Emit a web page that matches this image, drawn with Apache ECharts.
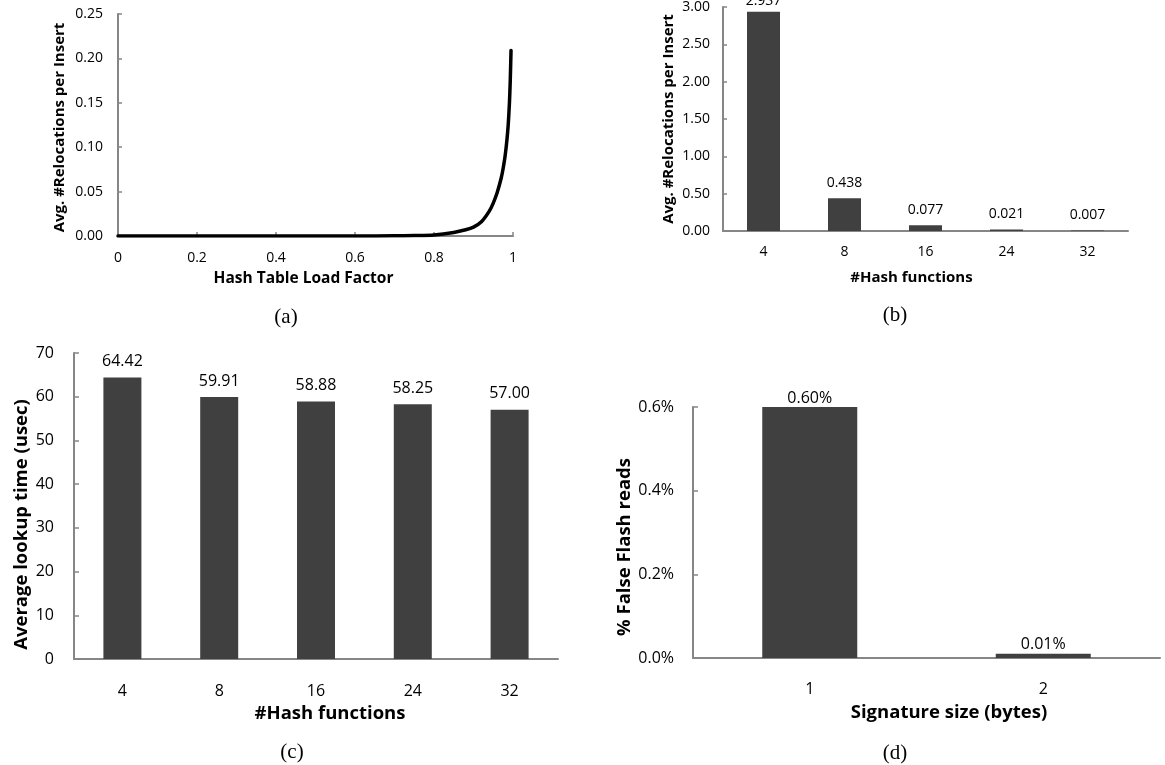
<!DOCTYPE html>
<html>
<head>
<meta charset="utf-8">
<script src="https://cdn.jsdelivr.net/npm/echarts@6/dist/echarts.min.js"></script>
<style>
  html, body { margin: 0; padding: 0; background: #fff; }
  #main { width: 1165px; height: 765px; }
</style>
</head>
<body>
<div id="main"></div>
<script>
// (a) relocations vs load factor
var loadFactor = [0, 0.1, 0.2, 0.3, 0.4, 0.5, 0.6, 0.7, 0.75, 0.8, 0.85, 0.88, 0.9, 0.92, 0.94, 0.95, 0.96, 0.97, 0.975, 0.98, 0.985, 0.988, 0.991, 0.993, 0.995];
var avgRelocations = [0, 0, 0, 0, 0, 0, 0.0001, 0.0002, 0.0005, 0.0012, 0.004, 0.007, 0.010, 0.016, 0.028, 0.037, 0.049, 0.065, 0.076, 0.090, 0.110, 0.126, 0.150, 0.174, 0.209];

// (b) relocations vs #hash functions
var hashFuncs = ['4', '8', '16', '24', '32'];
var relocPerInsert = [2.937, 0.438, 0.077, 0.021, 0.007];

// (c) lookup time vs #hash functions
var lookupTime = [64.42, 59.91, 58.88, 58.25, 57.00];

// (d) false flash reads (%) vs signature size
var sigSize = ['1', '2'];
var falseReads = [0.60, 0.01];

var FONT = 'Open Sans';
var AXIS = '#868686';
var BAR = '#404040';

function axisLineStyle() {
    return { show: true, lineStyle: { color: AXIS, width: 2 } };
}
function inTick(len) {
    return { show: true, inside: true, length: len, lineStyle: { color: AXIS, width: 1.5 } };
}
function titleStyle(size, padding) {
    return { fontSize: size, fontWeight: 'bold', color: '#000', fontFamily: FONT, padding: padding || 0 };
}

var chart = echarts.init(document.getElementById('main'));

var option = {
    backgroundColor: '#fff',
    animation: false,
    textStyle: { fontFamily: FONT, color: '#000' },
    grid: [
        { left: 118, top: 14, width: 395, height: 222 },
        { left: 723, top: 5, width: 405, height: 226 },
        { left: 74, top: 353, width: 484, height: 306 },
        { left: 693, top: 407, width: 467, height: 251 }
    ],
    xAxis: [{
        gridIndex: 0,
        type: 'value',
        min: 0, max: 1, interval: 0.2,
        axisLine: axisLineStyle(),
        axisTick: inTick(4),
        splitLine: { show: false },
        axisLabel: { fontSize: 14, margin: 15, color: '#000', fontFamily: FONT },
        name: 'Hash Table Load Factor',
        nameLocation: 'middle', nameGap: 35,
        nameTextStyle: titleStyle(15.5, [0, 24, 0, 0])
    }, {
        gridIndex: 1,
        type: 'category',
        data: hashFuncs,
        axisLine: axisLineStyle(),
        axisTick: { show: false },
        axisLabel: { fontSize: 14, margin: 14, color: '#000', fontFamily: FONT },
        name: '#Hash functions',
        nameLocation: 'middle', nameGap: 39,
        nameTextStyle: titleStyle(15, [0, 28, 0, 0])
    }, {
        gridIndex: 2,
        type: 'category',
        data: hashFuncs,
        axisLine: axisLineStyle(),
        axisTick: { show: false },
        axisLabel: { fontSize: 16, margin: 24, color: '#000', fontFamily: FONT },
        name: '#Hash functions',
        nameLocation: 'middle', nameGap: 45,
        nameTextStyle: titleStyle(18.5, [0, 0, 0, 28])
    }, {
        gridIndex: 3,
        type: 'category',
        data: sigSize,
        axisLine: axisLineStyle(),
        axisTick: { show: false },
        axisLabel: { fontSize: 16, margin: 23, color: '#000', fontFamily: FONT },
        name: 'Signature size (bytes)',
        nameLocation: 'middle', nameGap: 45,
        nameTextStyle: titleStyle(18.5, [0, 0, 0, 45])
    }],
    yAxis: [{
        gridIndex: 0,
        type: 'value',
        min: 0, max: 0.25, interval: 0.05,
        axisLine: axisLineStyle(),
        axisTick: inTick(4),
        splitLine: { show: false },
        axisLabel: { fontSize: 14, margin: 15, color: '#000', fontFamily: FONT, formatter: function (v) { return v.toFixed(2); } },
        name: 'Avg. #Relocations per Insert',
        nameLocation: 'middle', nameGap: 51,
        nameTextStyle: titleStyle(15, [0, 0, 0, -5])
    }, {
        gridIndex: 1,
        type: 'value',
        min: 0, max: 3, interval: 0.5,
        axisLine: axisLineStyle(),
        axisTick: inTick(4),
        splitLine: { show: false },
        axisLabel: { fontSize: 14, margin: 13, color: '#000', fontFamily: FONT, formatter: function (v) { return v.toFixed(2); } },
        name: 'Avg. #Relocations per Insert',
        nameLocation: 'middle', nameGap: 47,
        nameTextStyle: titleStyle(15)
    }, {
        gridIndex: 2,
        type: 'value',
        min: 0, max: 70, interval: 10,
        axisLine: axisLineStyle(),
        axisTick: inTick(5),
        splitLine: { show: false },
        axisLabel: { fontSize: 16, margin: 20, color: '#000', fontFamily: FONT },
        name: 'Average lookup time (usec)',
        nameLocation: 'middle', nameGap: 43,
        nameTextStyle: titleStyle(18.5, [0, 0, 0, -37])
    }, {
        gridIndex: 3,
        type: 'value',
        min: 0, max: 0.6, interval: 0.2,
        axisLine: axisLineStyle(),
        axisTick: inTick(5),
        splitLine: { show: false },
        axisLabel: { fontSize: 16, margin: 19, color: '#000', fontFamily: FONT, formatter: function (v) { return v.toFixed(1) + '%'; } },
        name: '% False Flash reads',
        nameLocation: 'middle', nameGap: 58,
        nameTextStyle: titleStyle(18.5, [0, 0, 0, -29])
    }],
    series: [{
        type: 'line',
        xAxisIndex: 0, yAxisIndex: 0,
        data: loadFactor.map(function (x, i) { return [x, avgRelocations[i]]; }),
        showSymbol: false,
        smooth: 0.25,
        lineStyle: { color: '#000', width: 3.5, join: 'round', cap: 'round' }
    }, {
        type: 'bar',
        xAxisIndex: 1, yAxisIndex: 1,
        // the tallest label sits closer to its bar, it runs off the top edge
        data: relocPerInsert.map(function (v, i) {
            return i === 0 ? { value: v, label: { distance: 4 } } : v;
        }),
        barWidth: 33,
        itemStyle: { color: BAR },
        label: { show: true, position: 'top', distance: 8, fontSize: 14, color: '#000', fontFamily: FONT,
            formatter: function (p) { return p.value.toFixed(3); } }
    }, {
        type: 'bar',
        xAxisIndex: 2, yAxisIndex: 2,
        data: lookupTime,
        barWidth: 38,
        itemStyle: { color: BAR },
        label: { show: true, position: 'top', distance: 8, fontSize: 16, color: '#000', fontFamily: FONT,
            formatter: function (p) { return p.value.toFixed(2); } }
    }, {
        type: 'bar',
        xAxisIndex: 3, yAxisIndex: 3,
        data: falseReads,
        barWidth: 95,
        itemStyle: { color: BAR },
        label: { show: true, position: 'top', distance: 1, fontSize: 16, color: '#000', fontFamily: FONT,
            formatter: function (p) { return p.value.toFixed(2) + '%'; } }
    }],
    graphic: [
        { type: 'text', x: 286, y: 317, style: { text: '(a)', font: '21px "Liberation Serif"', fill: '#000', align: 'center', verticalAlign: 'middle' } },
        { type: 'text', x: 895, y: 315, style: { text: '(b)', font: '21px "Liberation Serif"', fill: '#000', align: 'center', verticalAlign: 'middle' } },
        { type: 'text', x: 292, y: 752, style: { text: '(c)', font: '21px "Liberation Serif"', fill: '#000', align: 'center', verticalAlign: 'middle' } },
        { type: 'text', x: 895, y: 753, style: { text: '(d)', font: '21px "Liberation Serif"', fill: '#000', align: 'center', verticalAlign: 'middle' } }
    ]
};

chart.setOption(option);
</script>
</body>
</html>
